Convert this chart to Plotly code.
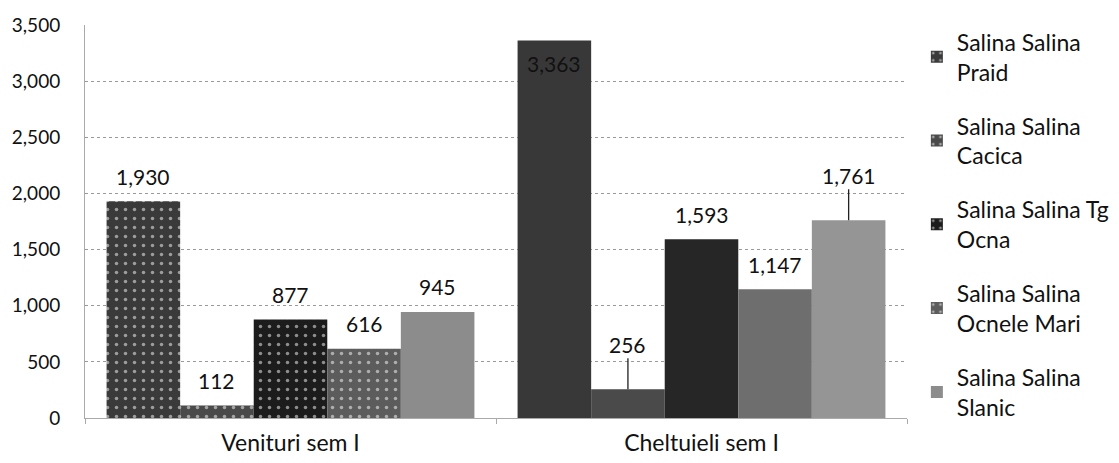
import plotly.graph_objects as go

categories = ["Venituri sem I", "Cheltuieli sem I"]
series_names = ["Salina Salina<br>Praid", "Salina Salina<br>Cacica", "Salina Salina Tg<br>Ocna",
                "Salina Salina<br>Ocnele Mari", "Salina Salina<br>Slanic"]
praid = [1930, 3363]
cacica = [112, 256]
tg_ocna = [877, 1593]
ocnele_mari = [616, 1147]
slanic = [945, 1761]
values = [praid, cacica, tg_ocna, ocnele_mari, slanic]
colors = [["#3a3a3a", "#383838"], ["#4a4a4a", "#4a4a4a"], ["#1c1c1c", "#262626"],
          ["#5c5c5c", "#6e6e6e"], ["#8c8c8c", "#959595"]]
patterns = [[".", ""], [".", ""], [".", ""], [".", ""], ["", ""]]
# labels with leader lines: (series index, category index)
leader = [(1, 1), (4, 1)]

FONT = "Lato, 'Open Sans', sans-serif"
# page body has an 8px default margin, so the figure is 8px smaller
W, H = 1111, 455
L, T = 77, 17
R = W - 899
B = H - 410
plot_w = W - L - R
plot_h = H - T - B
bargap = 0.105
bar_w = plot_w / len(categories) * (1 - bargap) / len(values)
YMAX = 3500

fig = go.Figure()
for i, (name, vals) in enumerate(zip(series_names, values)):
    fig.add_trace(go.Bar(
        x=categories, y=vals, name=name,
        marker=dict(color=colors[i], line=dict(width=0),
                    pattern=dict(shape=patterns[i], fgcolor="white", size=9, solidity=0.12)),
        legendgroup=str(i), hoverinfo="x+y",
    ))

lab_font = dict(family=FONT, size=21, color="#111")
for i, vals in enumerate(values):
    for j, v in enumerate(vals):
        xs = (i - 2) * bar_w
        if (i, j) in leader:
            fig.add_annotation(x=categories[j], y=v, xshift=xs, text=f"{v:,}",
                               showarrow=True, arrowhead=0, arrowwidth=1.3, arrowcolor="#222",
                               ax=0, ay=-45, standoff=0, font=lab_font)
        elif v / YMAX * plot_h > plot_h - 30:
            fig.add_annotation(x=categories[j], y=v, xshift=xs, yshift=-23, text=f"{v:,}",
                               showarrow=False, yanchor="middle", font=lab_font)
        else:
            fig.add_annotation(x=categories[j], y=v, xshift=xs, yshift=25, text=f"{v:,}",
                               showarrow=False, yanchor="middle", font=lab_font)

fig.update_layout(
    width=W, height=H, barmode="group", bargap=bargap, bargroupgap=0,
    margin=dict(l=L, r=R, t=T, b=B, autoexpand=False),
    plot_bgcolor="white", paper_bgcolor="white",
    font=dict(family=FONT, size=19, color="#111"),
    legend=dict(x=1.012, y=1.012, xanchor="left", yanchor="top",
                font=dict(family=FONT, size=23, color="#111"),
                tracegroupgap=21, itemwidth=30, traceorder="grouped",
                maxheight=450, bgcolor="rgba(0,0,0,0)"),
    showlegend=True,
)
fig.update_yaxes(range=[0, YMAX], dtick=500, tickformat=",", showgrid=True,
                 gridcolor="#9a9a9a", griddash="dot", gridwidth=1,
                 showline=True, linecolor="#aaaaaa", linewidth=1, zeroline=False,
                 ticks="", ticklabelstandoff=20, tickfont=dict(family=FONT, size=19))
fig.update_xaxes(showline=True, linecolor="#aaaaaa", linewidth=1, ticks="outside",
                 tickson="boundaries", ticklen=5, tickcolor="#aaaaaa",
                 ticklabelstandoff=4, tickfont=dict(family=FONT, size=23))

fig.write_html("out.html")
